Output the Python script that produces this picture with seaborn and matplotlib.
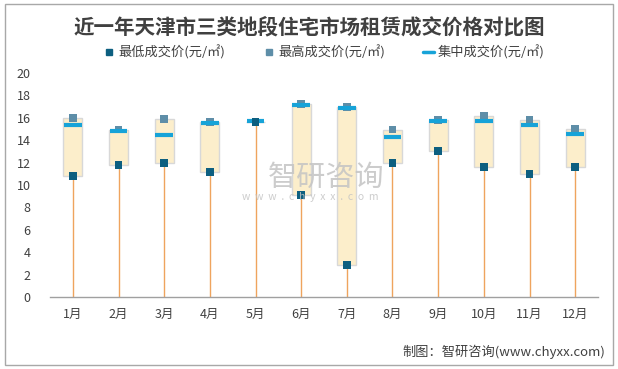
import matplotlib
matplotlib.use("Agg")
import matplotlib.pyplot as plt
from matplotlib.patches import Rectangle
from matplotlib.lines import Line2D
import seaborn as sns
import pandas as pd
import numpy as np

months = ["1月", "2月", "3月", "4月", "5月", "6月", "7月", "8月", "9月", "10月", "11月", "12月"]
low_price = [10.8, 11.8, 12.0, 11.15, 15.6, 9.1, 2.85, 11.95, 13.0, 11.6, 10.95, 11.6]
high_price = [16.0, 14.95, 15.9, 15.6, 15.65, 17.25, 17.0, 14.95, 15.8, 16.2, 15.8, 15.0]
mid_price = [15.35, 14.8, 14.45, 15.5, 15.7, 17.1, 16.85, 14.25, 15.7, 15.7, 15.35, 14.55]
yticks = list(range(0, 21, 2))

title = "近一年天津市三类地段住宅市场租赁成交价格对比图"
leg_low = "最低成交价(元/㎡)"
leg_high = "最高成交价(元/㎡)"
leg_mid = "集中成交价(元/㎡)"
source = "制图：智研咨询(www.chyxx.com)"

sns.set_theme(style="white")
plt.rcParams["font.family"] = ["Noto Sans CJK SC", "DejaVu Sans"]

df = pd.DataFrame({"month": months, "low": low_price, "high": high_price, "mid": mid_price})
df["x"] = np.arange(len(df))

c_low = "#0D5F80"
c_high = "#5E8EA8"
c_mid = "#17A3D8"
c_box = "#FCEECB"
c_drop = "#EFA45E"

fig = plt.figure(figsize=(6.18, 3.69), dpi=100)
ax = fig.add_axes([50 / 618, 1 - 297 / 369, 548 / 618, 224 / 369])

# drop lines from axis to low
ax.vlines(df["x"], 0, df["low"], color=c_drop, lw=1.0, zorder=1)
# range boxes
ax.bar(df["x"], df["high"] - df["low"], bottom=df["low"], width=0.42,
       color=c_box, edgecolor="#D8D8D8", linewidth=1.0, zorder=2)
# mid lines
ax.hlines(df["mid"], df["x"] - 0.19, df["x"] + 0.19, color=c_mid, lw=3, zorder=4)
# markers
sns.scatterplot(data=df, x="x", y="low", marker="s", s=32, color=c_low,
                edgecolor="none", ax=ax, zorder=5, legend=False)
sns.scatterplot(data=df, x="x", y="high", marker="s", s=32, color=c_high,
                edgecolor="none", ax=ax, zorder=3, legend=False)

ax.set_xlim(-0.5, len(df) - 0.5)
ax.set_ylim(0, 20)
ax.set_yticks(yticks)
ax.set_yticklabels([str(t) for t in yticks], fontsize=9, color="#404040")
ax.set_xticks(df["x"])
ax.set_xticklabels(months, fontsize=9, color="#404040")
ax.tick_params(axis="x", length=0, pad=8)
ax.tick_params(axis="y", length=0, pad=14)
ax.set_xlabel("")
ax.set_ylabel("")
for s in ["top", "right", "left"]:
    ax.spines[s].set_visible(False)
ax.spines["bottom"].set_color("#A0A0A0")
ax.spines["bottom"].set_linewidth(1.0)
ax.grid(False)

# watermark
fig.text(326 / 618, 1 - 178 / 369, "智研咨询", fontsize=21, color="#C4C4C4", ha="center",
         va="center", alpha=0.85, zorder=0)
fig.text(310 / 618, 1 - 197 / 369, "w  w  w  .  c  h  y  x  x  .  c  o  m", fontsize=7.5,
         color="#C4C4C4", ha="center", va="center", alpha=0.85)

fig.text(0.5, 1 - 27 / 369, title, fontsize=14.8, fontweight="bold", color="#404040",
         ha="center", va="center")

handles = [
    Line2D([], [], marker="s", color=c_low, linestyle="none", markersize=5),
    Line2D([], [], marker="s", color=c_high, linestyle="none", markersize=5),
    Line2D([], [], color=c_mid, lw=2.5),
]
fig.legend(handles, [leg_low, leg_high, leg_mid], loc="center",
           bbox_to_anchor=(0.525, 1 - 52 / 369), ncol=3, frameon=False,
           fontsize=9.5, handlelength=0.8, handletextpad=0.3, columnspacing=2.9,
           labelcolor="#404040")

fig.text(1 - 13 / 618, 1 - 352 / 369, source, fontsize=9.5, color="#404040",
         ha="right", va="center")

fig.patches.append(Rectangle((5 / 618, 4 / 369), 608 / 618, 361 / 369,
                             transform=fig.transFigure, fill=False,
                             edgecolor="#A8A8A8", lw=1.0))

fig.savefig("out.png", dpi=100)
